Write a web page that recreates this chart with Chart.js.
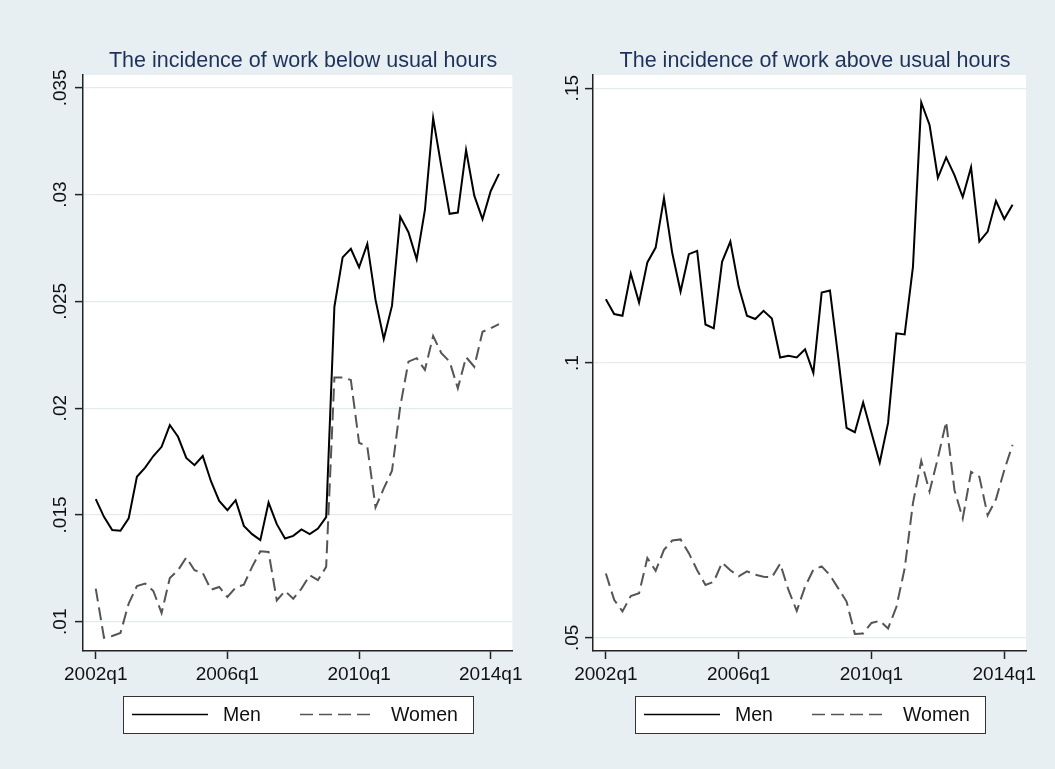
<!DOCTYPE html>
<html>
<head>
<meta charset="utf-8">
<script src="https://cdn.jsdelivr.net/npm/chart.js@4.4.1/dist/chart.umd.min.js"></script>
<style>
  html, body { margin: 0; padding: 0; background: #E8EFF2; }
  #wrap { position: relative; width: 1055px; height: 769px; background: #E8EFF2; overflow: hidden; }
  canvas { position: absolute; top: 0; }
  #below { left: 0; }
  #above { left: 527px; }
</style>
</head>
<body>
<div id="wrap">
  <canvas id="below" width="527" height="769"></canvas>
  <canvas id="above" width="528" height="769"></canvas>
</div>
<script>
// Quarterly periods
const quarters = [
  '2002q1','2002q2','2002q3','2002q4','2003q1','2003q2','2003q3','2003q4',
  '2004q1','2004q2','2004q3','2004q4','2005q1','2005q2','2005q3','2005q4',
  '2006q1','2006q2','2006q3','2006q4','2007q1','2007q2','2007q3','2007q4',
  '2008q1','2008q2','2008q3','2008q4','2009q1','2009q2','2009q3','2009q4',
  '2010q1','2010q2','2010q3','2010q4','2011q1','2011q2','2011q3','2011q4',
  '2012q1','2012q2','2012q3','2012q4','2013q1','2013q2','2013q3','2013q4',
  '2014q1','2014q2'
];

// Incidence of work below usual hours
const belowMen = [
  0.01574, 0.01491, 0.01429, 0.01426, 0.01484, 0.01679, 0.01722, 0.01776,
  0.01819, 0.01921, 0.01866, 0.01767, 0.01733, 0.01776, 0.01658, 0.01566,
  0.01522, 0.01569, 0.01449, 0.01410, 0.01382, 0.01558, 0.01457, 0.01390,
  0.01402, 0.01432, 0.01410, 0.01436, 0.01490, 0.02475, 0.02706, 0.02746,
  0.02660, 0.02769, 0.02507, 0.02324, 0.02480, 0.02897, 0.02824, 0.02697,
  0.02928, 0.03358, 0.03131, 0.02910, 0.02916, 0.03209, 0.02995, 0.02885,
  0.03017, 0.03097
];
const belowWomen = [
  0.01155, 0.00925, 0.00933, 0.00947, 0.01085, 0.01167, 0.01179, 0.01144,
  0.01041, 0.01205, 0.01241, 0.01301, 0.01241, 0.01229, 0.01150, 0.01163,
  0.01116, 0.01160, 0.01174, 0.01257, 0.01330, 0.01327, 0.01100, 0.01144,
  0.01108, 0.01155, 0.01218, 0.01195, 0.01257, 0.02144, 0.02144, 0.02132,
  0.01838, 0.01820, 0.01536, 0.01624, 0.01707, 0.02007, 0.02218, 0.02234,
  0.02179, 0.02338, 0.02257, 0.02218, 0.02093, 0.02239, 0.02194, 0.02358,
  0.02374, 0.02394
];

// Incidence of work above usual hours
const aboveMen = [
  0.1116, 0.1089, 0.1086, 0.1163, 0.1110, 0.1183, 0.1210, 0.1300,
  0.1200, 0.1130, 0.1198, 0.1204, 0.1070, 0.1063, 0.1184, 0.1221,
  0.1139, 0.1086, 0.1080, 0.1095, 0.1081, 0.1010, 0.1013, 0.1010,
  0.1025, 0.0982, 0.1128, 0.1132, 0.1010, 0.0882, 0.0874, 0.0928,
  0.0873, 0.0819, 0.0891, 0.1054, 0.1052, 0.1175, 0.1474, 0.1433,
  0.1337, 0.1374, 0.1342, 0.1302, 0.1356, 0.1221, 0.1239, 0.1295,
  0.1262, 0.1288
];
const aboveWomen = [
  0.0617, 0.0569, 0.0548, 0.0576, 0.0581, 0.0645, 0.0622, 0.0660,
  0.0677, 0.0679, 0.0654, 0.0623, 0.0596, 0.0602, 0.0637, 0.0623,
  0.0612, 0.0621, 0.0615, 0.0611, 0.0610, 0.0635, 0.0587, 0.0549,
  0.0593, 0.0624, 0.0630, 0.0614, 0.0590, 0.0566, 0.0507, 0.0508,
  0.0527, 0.0531, 0.0517, 0.0556, 0.0626, 0.0745, 0.0822, 0.0766,
  0.0827, 0.0893, 0.0769, 0.0717, 0.0802, 0.0793, 0.0723, 0.0752,
  0.0805, 0.0851
];

// Axis ticks
const xTickLabels = ['2002q1', '2006q1', '2010q1', '2014q1'];
const belowTicks = [0.01, 0.015, 0.02, 0.025, 0.03, 0.035];
const belowTickLabels = ['.01', '.015', '.02', '.025', '.03', '.035'];
const aboveTicks = [0.05, 0.1, 0.15];
const aboveTickLabels = ['.05', '.1', '.15'];

const seriesNames = ['Men', 'Women'];
const panelTitles = ['The incidence of work below usual hours', 'The incidence of work above usual hours'];

const FONT = '"Liberation Sans", Arial, Helvetica, sans-serif';
Chart.defaults.font.family = FONT;

// Plot region fill, rotated y labels, panel title and boxed legend
const stataFrame = {
  id: 'stataFrame',
  beforeDraw(chart) {
    const { ctx, chartArea: a } = chart;
    ctx.save();
    ctx.fillStyle = '#ffffff';
    ctx.fillRect(a.left, a.top, a.right - a.left, a.bottom - a.top);
    ctx.restore();
  },
  afterDraw(chart, args, opts) {
    const { ctx, chartArea: a } = chart;
    const ys = chart.scales.y;
    ctx.save();
    // y tick labels, vertical
    ctx.fillStyle = '#111';
    ctx.font = '19px ' + FONT;
    ctx.textAlign = 'center';
    ctx.textBaseline = 'alphabetic';
    opts.tickValues.forEach((v, k) => {
      const py = ys.getPixelForValue(v);
      ctx.save();
      ctx.translate(a.left - opts.labelGap, py);
      ctx.rotate(-Math.PI / 2);
      ctx.fillText(opts.tickLabels[k], 0, 0);
      ctx.restore();
    });
    // title
    const cx = (a.left + a.right) / 2;
    ctx.fillStyle = '#1E3259';
    ctx.font = '21.5px ' + FONT;
    ctx.textAlign = 'center';
    ctx.fillText(opts.title, cx + 5.5, 67);
    // legend
    const bw = 350, bh = 37;
    const bx = Math.round(cx - bw / 2), by = 696;
    ctx.fillStyle = '#ffffff';
    ctx.fillRect(bx, by, bw, bh);
    ctx.strokeStyle = '#333';
    ctx.lineWidth = 1;
    ctx.strokeRect(bx + 0.5, by + 0.5, bw, bh);
    const ly = by + 18.5;
    chart.data.datasets.forEach((ds, k) => {
      const x0 = bx + 9 + k * 168;
      ctx.beginPath();
      ctx.setLineDash(ds.borderDash || []);
      ctx.strokeStyle = ds.borderColor;
      ctx.lineWidth = 1.3;
      ctx.moveTo(x0, ly);
      ctx.lineTo(x0 + 76, ly);
      ctx.stroke();
      ctx.setLineDash([]);
      ctx.fillStyle = '#111';
      ctx.font = '19.5px ' + FONT;
      ctx.textAlign = 'left';
      ctx.textBaseline = 'middle';
      ctx.fillText(ds.label, x0 + 91, ly + 1);
    });
    ctx.restore();
  }
};

function makePanel(canvasId, men, women, yMin, yMax, yTicks, yTickLabels, title, yWidth, padRight, labelGap) {
  const toPoints = arr => arr.map((v, i) => ({ x: i, y: v }));
  return new Chart(document.getElementById(canvasId), {
    type: 'line',
    data: {
      datasets: [
        { label: seriesNames[0], data: toPoints(men), borderColor: '#000000', borderWidth: 2,
          pointRadius: 0, tension: 0, fill: false },
        { label: seriesNames[1], data: toPoints(women), borderColor: '#555555', borderWidth: 2,
          borderDash: [13, 6], pointRadius: 0, tension: 0, fill: false }
      ]
    },
    options: {
      responsive: false,
      animation: false,
      devicePixelRatio: 1,
      layout: { padding: { left: 0, right: padRight, top: 75, bottom: 0 } },
      plugins: {
        legend: { display: false },
        tooltip: { enabled: false },
        stataFrame: { title, tickValues: yTicks, tickLabels: yTickLabels, labelGap }
      },
      scales: {
        x: {
          type: 'linear',
          min: -1.55,
          max: 50.62,
          afterBuildTicks: s => { s.ticks = xTickLabels.map(l => ({ value: quarters.indexOf(l) })); },
          afterFit: s => { s.height = 118; },
          ticks: {
            autoSkip: false, maxRotation: 0, minRotation: 0,
            color: '#111', font: { size: 19 }, padding: 4,
            callback: v => quarters[v]
          },
          grid: { drawOnChartArea: false, drawTicks: true, tickLength: 8, tickColor: '#222', tickWidth: 1.5 },
          border: { display: true, color: '#222', width: 1.5 }
        },
        y: {
          type: 'linear',
          min: yMin,
          max: yMax,
          afterBuildTicks: s => { s.ticks = yTicks.map(v => ({ value: v })); },
          afterFit: s => { s.width = yWidth; },
          ticks: { display: false },
          grid: { color: '#E3EBEF', lineWidth: 1.2, drawTicks: true, tickLength: 8, tickColor: '#222', tickWidth: 1.5 },
          border: { display: true, color: '#222', width: 1.5 }
        }
      }
    },
    plugins: [stataFrame]
  });
}

makePanel('below', belowMen, belowWomen, 0.00863, 0.0356, belowTicks, belowTickLabels, panelTitles[0], 83, 11, 17);
makePanel('above', aboveMen, aboveWomen, 0.0476, 0.1524, aboveTicks, aboveTickLabels, panelTitles[1], 66, 29, 15);
</script>
</body>
</html>
